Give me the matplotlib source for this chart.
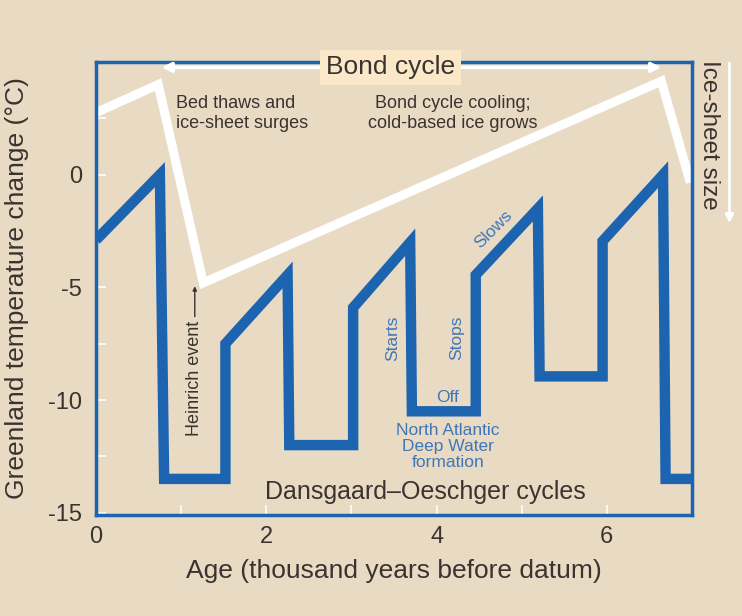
import matplotlib
matplotlib.use("Agg")
import matplotlib.pyplot as plt
from matplotlib import font_manager

# pick a condensed sans if available
names = {f.name for f in font_manager.fontManager.ttflist}
FONT = "Liberation Sans Narrow" if "Liberation Sans Narrow" in names else "Liberation Sans"
plt.rcParams["font.family"] = [FONT, "DejaVu Sans"]
plt.rcParams["axes.unicode_minus"] = False

# Greenland temperature change (Dansgaard-Oeschger cycles)
temp_age = [0.0, 0.75, 0.80, 1.52, 1.52, 2.25, 2.27, 3.02, 3.02, 3.69, 3.71,
            4.46, 4.46, 5.19, 5.21, 5.95, 5.95, 6.66, 6.69, 7.0]
temp_val = [-2.9, 0.0, -13.5, -13.5, -7.5, -4.45, -12.0, -12.0, -5.9, -3.0, -10.5,
            -10.5, -4.45, -1.5, -8.95, -8.95, -2.95, 0.0, -13.5, -13.5]

# ice-sheet size (Bond cycle), schematic
ice_age = [0.0, 0.73, 1.26, 6.64, 6.98]
ice_val = [2.75, 4.0, -4.8, 4.15, -0.35]

xticks_major = [0, 2, 4, 6]
xticks_minor = [1, 3, 5]
yticks_major = [0, -5, -10, -15]
yticks_minor = [2.5, -2.5, -7.5, -12.5]

BG = "#e9dac3"
BLUE = "#1c63b0"
LBLUE = "#3f77b8"
TXT = "#3a3330"

fig = plt.figure(figsize=(7.42, 6.16), dpi=100, facecolor=BG)
ax = fig.add_axes([0.1294, 0.164, 0.8032, 0.7354])
ax.set_facecolor(BG)

ax.plot(ice_age, ice_val, color="white", lw=6.5, solid_joinstyle="miter",
        solid_capstyle="butt", zorder=2)
ax.plot(temp_age, temp_val, color=BLUE, lw=7.5, solid_joinstyle="miter",
        solid_capstyle="butt", zorder=3)

ax.set_xlim(0, 7.0)
ax.set_ylim(-15.1, 5.0)

for s in ax.spines.values():
    s.set_color(BLUE)
    s.set_linewidth(2.5)

ax.set_xticks(xticks_major)
ax.set_xticks(xticks_minor, minor=True)
ax.set_yticks(yticks_major)
ax.set_yticks(yticks_minor, minor=True)
ax.tick_params(which="both", direction="in", color="white", width=1.2,
               length=7, labelsize=17, labelcolor=TXT, pad=8)
ax.tick_params(axis="y", which="both", pad=10)

ax.set_xlabel("Age (thousand years before datum)", fontsize=19, color=TXT, labelpad=8)
ax.set_ylabel("Greenland temperature change (°C)", fontsize=19, color=TXT, labelpad=14)

# Bond cycle double arrow and label
ax.annotate("", xy=(0.77, 4.76), xytext=(6.64, 4.76),
            arrowprops=dict(arrowstyle="<|-|>", color="white", lw=2.5,
                            mutation_scale=14, shrinkA=0, shrinkB=0), zorder=4)
ax.text(3.46, 4.76, "Bond cycle", fontsize=19, color=TXT, ha="center", va="center",
        bbox=dict(boxstyle="square,pad=0.22", fc="#fbe8c9", ec="none"), zorder=5,
        clip_on=False)

ax.text(0.94, 2.72, "Bed thaws and\nice-sheet surges", fontsize=13, color=TXT,
        ha="left", va="center", linespacing=1.2)
ax.text(4.19, 2.72, "Bond cycle cooling;\ncold-based ice grows", fontsize=13, color=TXT,
        ha="center", va="center", linespacing=1.2)

# Heinrich event
ax.text(1.16, -9.05, "Heinrich event", fontsize=13, color=TXT, rotation=90,
        ha="center", va="center")
ax.annotate("", xy=(1.16, -4.95), xytext=(1.16, -6.3),
            arrowprops=dict(arrowstyle="-|>", color=TXT, lw=1.0,
                            mutation_scale=6, shrinkA=0, shrinkB=0))

# NADW labels
ax.text(3.48, -7.25, "Starts", fontsize=12.5, color=LBLUE, rotation=90,
        ha="center", va="center")
ax.text(4.24, -7.25, "Stops", fontsize=12.5, color=LBLUE, rotation=90,
        ha="center", va="center")
ax.text(4.13, -9.9, "Off", fontsize=12.5, color=LBLUE, ha="center", va="center")
ax.text(4.13, -12.05, "North Atlantic\nDeep Water\nformation", fontsize=12.5,
        color=LBLUE, ha="center", va="center", linespacing=1.08)
ax.text(4.67, -2.45, "Slows", fontsize=12.5, color=LBLUE, rotation=45,
        ha="center", va="center")

ax.text(3.87, -14.1, "Dansgaard\u2013Oeschger cycles", fontsize=18, color=TXT,
        ha="center", va="center")

# ice-sheet size label with downward arrow on the right
ax.text(7.2, 1.75, "Ice-sheet size", fontsize=17.5, color=TXT, rotation=270,
        ha="center", va="center", clip_on=False)
ax.annotate("", xy=(7.44, -2.15), xytext=(7.44, 4.95), xycoords="data",
            arrowprops=dict(arrowstyle="-|>", color="white", lw=2.0,
                            mutation_scale=12, shrinkA=0, shrinkB=0),
            annotation_clip=False)

fig.savefig("out.png", dpi=100, facecolor=BG)
